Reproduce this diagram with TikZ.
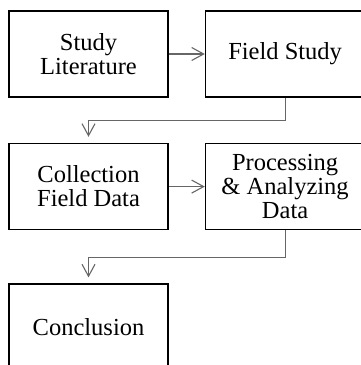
\documentclass[tikz,border=0pt]{standalone}
\usepackage{fontspec}
\setmainfont{Liberation Serif}
\usetikzlibrary{
positioning,%
arrows.meta
}
\tikzset{
    stage/.style={draw, line width=1.6pt, minimum width=159pt, minimum height=86pt, inner sep=0pt, align=center, font=\fontsize{24.5}{24}\selectfont},
    flow/.style={-{Straight Barb[length=12pt, width=13pt]}, line width=1.1pt, draw=black!60}
}

\begin{document}
\begin{tikzpicture}[x=1pt, y=1pt]
            \useasboundingbox (0,0) rectangle (361,365);
            \clip (0,0) rectangle (361,365);
            \node[stage] (lit) at (88.5,311) {Study\\Literature};
            \node[stage, right = 36pt of lit] (field) {Field Study};
            \node[stage, below = 45pt of lit] (collect) {Collection\\Field Data};
            \node[stage, right = 36pt of collect] (process) {Processing\\\& Analyzing\\Data};
            \node[stage, below = 53pt of collect] (concl) {Conclusion};
            \coordinate[below = 23pt of field.south] (k1);
            \coordinate[below = 27pt of process.south] (k2);
            \draw[flow] (lit) to (field);
            \draw[flow] (collect) to (process);
            \draw[flow, shorten >=6pt] (field.south) -- (k1) -| (collect.north);
            \draw[flow, shorten >=6pt] (process.south) -- (k2) -| (concl.north);
        \end{tikzpicture}
\end{document}
